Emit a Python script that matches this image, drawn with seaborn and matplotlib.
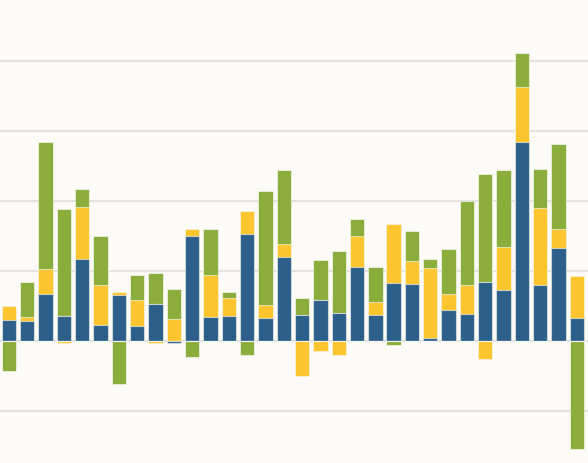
import numpy as np
import pandas as pd
import matplotlib
matplotlib.use("Agg")
import matplotlib.pyplot as plt
import seaborn as sns

# --- data (one value per bar; grid step = 1) -----------------------------------
periods = list(range(32))
blue = [0.30, 0.29, 0.67, 0.36, 1.18, 0.23, 0.66, 0.22, 0.53, -0.02, 1.50,
        0.34, 0.36, 1.53, 0.33, 1.21, 0.37, 0.59, 0.40, 1.06, 0.37, 0.83,
        0.82, 0.05, 0.45, 0.39, 0.84, 0.73, 2.84, 0.80, 1.33, 0.33]
yellow = [0.20, 0.06, 0.36, -0.03, 0.74, 0.57, 0.04, 0.37, -0.02, 0.32, 0.10,
          0.60, 0.26, 0.33, 0.19, 0.18, -0.50, -0.14, -0.19, 0.44, 0.19, 0.84,
          0.32, 1.00, 0.22, 0.42, -0.26, 0.61, 0.79, 1.11, 0.27, 0.60]
green = [-0.43, 0.50, 1.82, 1.53, 0.26, 0.70, -0.61, 0.35, 0.45, 0.43, -0.23,
         0.67, 0.08, -0.20, 1.63, 1.06, 0.25, 0.57, 0.89, 0.24, 0.50, -0.05,
         0.43, 0.12, 0.65, 1.20, 1.55, 1.11, 0.49, 0.55, 1.22, -1.54]

COLORS = {"blue": "#2d5f8b", "yellow": "#fdc52d", "green": "#8aad3c"}
BG = "#fcfbf7"

df = pd.DataFrame({"period": periods, "blue": blue, "yellow": yellow, "green": green})

# cumulative stacks, positives and negatives stacked separately
pos = df[["blue", "yellow", "green"]].clip(lower=0).cumsum(axis=1)
neg = df[["blue", "yellow", "green"]].clip(upper=0).cumsum(axis=1)

sns.set_theme(style="white")
fig = plt.figure(figsize=(5.88, 4.64), dpi=100, facecolor=BG)
ax = fig.add_axes([0, 0, 1, 1], facecolor=BG)

for y in range(-1, 5):
    ax.axhline(y, color="#e4e3e0", lw=1.6, zorder=0)

# draw tallest stack first, then overlay the lower layers
for stack in (pos, neg):
    for name in ("green", "yellow", "blue"):
        sns.barplot(x=df["period"], y=stack[name], color=COLORS[name], saturation=1,
                    width=0.785, errorbar=None, edgecolor=(1, 1, 1, 0.55),
                    linewidth=0.8, ax=ax, zorder=2)

ax.set_xlim(-0.49, 31.61)
ax.set_ylim(-1.739, 4.89)
ax.set_xticks([])
ax.set_yticks([])
ax.set_xlabel("")
ax.set_ylabel("")
for s in ax.spines.values():
    s.set_visible(False)

fig.savefig("out.png", dpi=100, facecolor=BG)
